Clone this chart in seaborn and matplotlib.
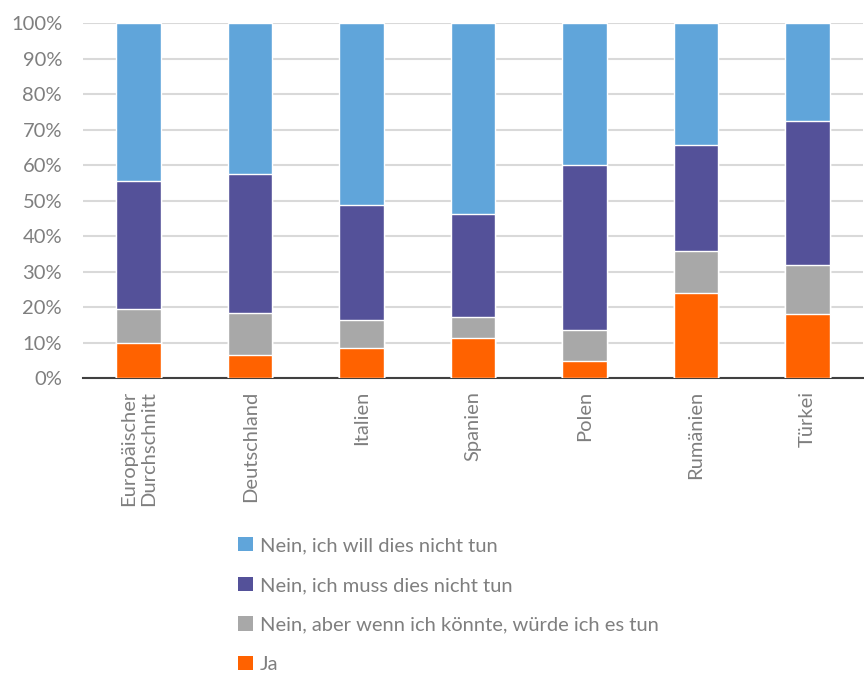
import numpy as np
import pandas as pd
import matplotlib
matplotlib.use("Agg")
import matplotlib.pyplot as plt
import seaborn as sns
from matplotlib.patches import Patch

countries = ["Europäischer\nDurchschnitt", "Deutschland", "Italien", "Spanien",
             "Polen", "Rumänien", "Türkei"]
# shares in percent, stacked bottom to top
ja = [9.9, 6.6, 8.5, 11.5, 5.0, 24.0, 18.2]
nein_aber = [9.8, 11.9, 7.9, 5.9, 8.6, 11.9, 13.7]
nein_muss = [36.0, 39.2, 32.4, 29.0, 46.6, 29.9, 40.7]
nein_will = [44.3, 42.3, 51.2, 53.6, 39.8, 34.2, 27.4]

series = ["Ja", "Nein, aber wenn ich könnte, würde ich es tun",
          "Nein, ich muss dies nicht tun", "Nein, ich will dies nicht tun"]
colors = ["#FF6200", "#A8A8A8", "#545199", "#60A5DA"]

sns.set_style("white")
plt.rcParams['font.family'] = ['Lato', 'DejaVu Sans']
text_grey = "#7F7F7F"

df = pd.DataFrame({"land": countries, series[0]: ja, series[1]: nein_aber,
                   series[2]: nein_muss, series[3]: nein_will})
cum = df[series].cumsum(axis=1)

fig = plt.figure(figsize=(8.64, 6.73), dpi=100)
ax = fig.add_axes([0.096, 0.4376, 0.903, 0.5275])

# draw cumulative totals from the top down so each layer shows its own segment
for name, col in reversed(list(zip(series, colors))):
    sns.barplot(x=df["land"], y=cum[name], color=col, width=0.4, ax=ax,
                saturation=1, zorder=3)

ax.set_ylim(0, 100)
ax.set_xlim(-0.5, 6.5)
ax.set_yticks(np.arange(0, 101, 10))
ax.set_yticklabels([f"{v}%" for v in range(0, 101, 10)])
ax.yaxis.grid(True, color="#D9D9D9", linewidth=1.5, zorder=0)
ax.set_axisbelow(True)
ax.set_xlabel("")
ax.set_ylabel("")
for s in ["top", "right", "left"]:
    ax.spines[s].set_visible(False)
ax.spines["bottom"].set_color("#404040")
ax.spines["bottom"].set_linewidth(1.5)
ax.tick_params(axis="both", length=0, labelsize=14.5, colors=text_grey)
ax.tick_params(axis="y", pad=15)
ax.set_xticks(range(len(countries)))
ax.set_xticklabels(countries, rotation=90, va="top", ha="center",
                   multialignment="right")
ax.tick_params(axis="x", pad=9)

handles = [Patch(facecolor=c, edgecolor="none") for c in colors]
leg = fig.legend(handles[::-1], series[::-1], loc="upper left",
                 bbox_to_anchor=(0.255, 1 - 519 / 673), frameon=False,
                 fontsize=14.5, handlelength=0.7, handleheight=0.7,
                 handletextpad=0.35, labelspacing=1.12)
for t in leg.get_texts():
    t.set_color(text_grey)

fig.savefig("out.png", dpi=100)
